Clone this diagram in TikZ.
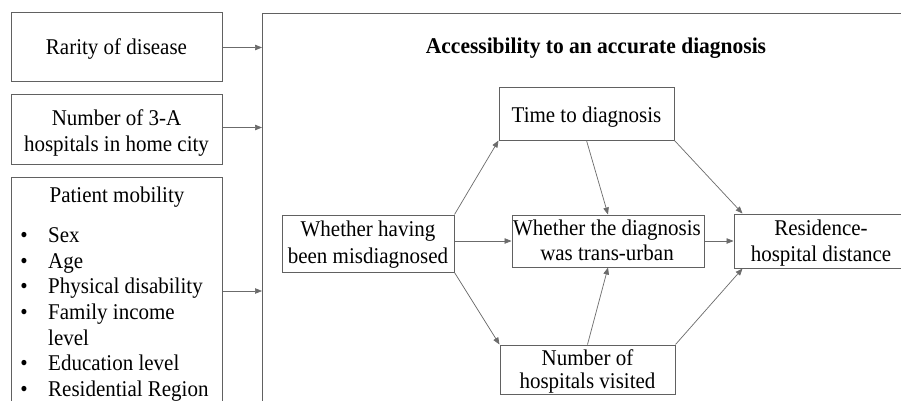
\documentclass[tikz,border=0pt]{standalone}
\usepackage{fontspec}
\setmainfont{Liberation Serif}[FakeStretch=0.933]
\newfontfamily\titlefont{Liberation Serif}[FakeStretch=0.955]
\usetikzlibrary{arrows.meta,calc}
\definecolor{boxgray}{gray}{0.38}
\definecolor{arrgray}{gray}{0.42}
\begin{document}
\begin{tikzpicture}[x=1pt,y=-1pt,
  box/.style={draw=boxgray, line width=1pt, rectangle, inner sep=0pt},
  lbl/.style={inner sep=0pt, anchor=base, font=\fontsize{22.5}{26}\selectfont},
  arr/.style={draw=arrgray, line width=0.7pt, -{Triangle[length=7pt,width=5.5pt]}}]
\clip (0,0) rectangle (901,401);
\fill[white] (0,0) rectangle (901,401);

% left boxes
\node[box, minimum width=211pt, minimum height=69pt] (rarity) at (116.5,47.5) {};
\node[lbl] (rarityA) at (116.5,55) {Rarity of disease};
\node[box, minimum width=211pt, minimum height=69pt] (homecity) at (116.5,129.5) {};
\node[lbl] (homecityA) at (116.5,125) {Number of 3-A};
\node[lbl] (homecityB) at (116.5,151.7) {hospitals in home city};
\node[box, minimum width=211pt, minimum height=260pt, anchor=north] (mobility) at (116.5,177) {};
\node[lbl] (mobtitle) at (117,202.7) {Patient mobility};
\foreach \i/\t/\b in {1/Sex/1,2/Age/1,3/Physical disability/1,4/Family income/1,5/level/0,6/Education level/1,7/Residential Region/1}{
  \node[lbl, anchor=base west] (item\i) at (48,{242.3+25.7*(\i-1)}) {\t};
  \ifnum\b=1
    \node[lbl] (bul\i) at (24,{242.3+25.7*(\i-1)}) {\textbullet};
  \fi
}

% big box
\node[box, minimum width=660pt, minimum height=420pt, anchor=north west] (big) at (262,13) {};
\node[lbl, font=\fontsize{22.5}{26}\titlefont\bfseries] (title) at (596,53.3) {Accessibility to an accurate diagnosis};

% inner boxes
\node[box, minimum width=175pt, minimum height=52pt] (time) at (586.5,114) {};
\node[lbl] (timeA) at (586.5,122) {Time to diagnosis};
\node[box, minimum width=172pt, minimum height=57pt] (wh) at (368,243.5) {};
\node[lbl] (whA) at (368,236) {Whether having};
\node[lbl] (whB) at (368,263) {been misdiagnosed};
\node[box, minimum width=192pt, minimum height=52pt] (wd) at (608,241) {};
\node[lbl] (wdA) at (607,235) {Whether the diagnosis};
\node[lbl] (wdB) at (607,260.5) {was trans-urban};
\node[box, minimum width=174pt, minimum height=54pt] (res) at (821,241) {};
\node[lbl] (resA) at (821,235) {Residence-};
\node[lbl] (resB) at (821,261.7) {hospital distance};
\node[box, minimum width=175pt, minimum height=49pt] (num) at (587.5,369.5) {};
\node[lbl] (numA) at (587.5,365) {Number of};
\node[lbl] (numB) at (587.5,388.5) {hospitals visited};

% arrows from left boxes
\draw[arr] (rarity.east) -- (rarity.east -| big.west);
\draw[arr] ([yshift=2pt]homecity.east) -- ([yshift=2pt]homecity.east -| big.west);
\draw[arr] ([yshift=-114pt]mobility.north east) -- ([yshift=-114pt]mobility.north east -| big.west);

% inner connectors
\draw[arr] (wh.north east) -- (time.south west);
\draw[arr] (wh.south east) -- (num.north west);
\draw[arr] (wd.west -| wh.east) -- (wd.west);
\draw[arr] (time.south) -- (wd.north);
\draw[arr] (num.north) -- (wd.south);
\draw[arr] (wd.east) -- (wd.east -| res.west);
\draw[arr] (time.south east) -- ([xshift=9pt]res.north west);
\draw[arr] (num.north east) -- ([xshift=9pt]res.south west);
\end{tikzpicture}
\end{document}
